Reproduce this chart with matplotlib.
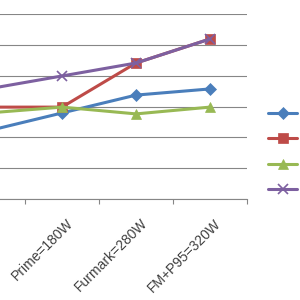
import matplotlib
matplotlib.use('Agg')
import matplotlib.pyplot as plt
import matplotlib.transforms as mtransforms
import numpy as np

categories = ['Idle', 'Prime=180W', 'Furmark=280W', 'FM+P95=320W']
series_names = ['Series1', 'Series2', 'Series3', 'Series4']
blue = [22.1, 27.9, 33.7, 35.7]
red = [29.8, 29.8, 44.1, 51.9]
green = [27.9, 29.8, 27.6, 29.8]
purple = [35.7, 39.9, 44.1, 51.9]

COLORS = ['#4A7EBB', '#BE4B48', '#98B954', '#7D60A0']
MARKERS = ['D', 's', '^', 'x']
SIZES = [6.5, 7, 7, 7]

fig = plt.figure(figsize=(3, 3), dpi=100)
ax = fig.add_axes([-49 / 300, 101 / 300, 296 / 300, 185 / 300])

x = np.arange(len(categories))
for vals, color, marker, size, name in zip([blue, red, green, purple], COLORS, MARKERS, SIZES, series_names):
    ax.plot(x, vals, color=color, lw=2.2, marker=marker, markersize=size,
            markeredgewidth=1.2 if marker == 'x' else 0.5, markeredgecolor=color,
            label=name, solid_capstyle='round')

ax.set_xlim(-0.5, len(categories) - 0.5)
ax.set_ylim(0, 60)
ax.set_yticks(np.arange(0, 61, 10))
ax.yaxis.grid(True, color='#868686', lw=0.8)
ax.set_axisbelow(True)
ax.tick_params(axis='y', length=0, labelleft=False)

ax.set_xticks(x)
ax.set_xticklabels(categories, rotation=45, ha='right', rotation_mode='anchor',
                   fontsize=10, color='#404040', family=['Liberation Sans', 'DejaVu Sans'])
ax.tick_params(axis='x', which='major', length=0, pad=6)
# nudge labels the way excel places them
shift = mtransforms.ScaledTranslation(4 / 100, -9 / 100, fig.dpi_scale_trans)
for lab in ax.get_xticklabels():
    lab.set_transform(lab.get_transform() + shift)
ax.set_xticks(np.arange(-0.5, len(categories), 1), minor=True)
ax.tick_params(axis='x', which='minor', length=3.5, color='#868686', width=0.8)

for side in ['top', 'right', 'left']:
    ax.spines[side].set_visible(False)
ax.spines['bottom'].set_color('#868686')
ax.spines['bottom'].set_linewidth(0.8)

fig.legend(loc='upper left', bbox_to_anchor=(268 / 300, 0.645), frameon=False,
           borderpad=0, borderaxespad=0, handlelength=2.1, handletextpad=0.5,
           labelspacing=0.83, fontsize=10)

fig.savefig('out.png', dpi=100)
